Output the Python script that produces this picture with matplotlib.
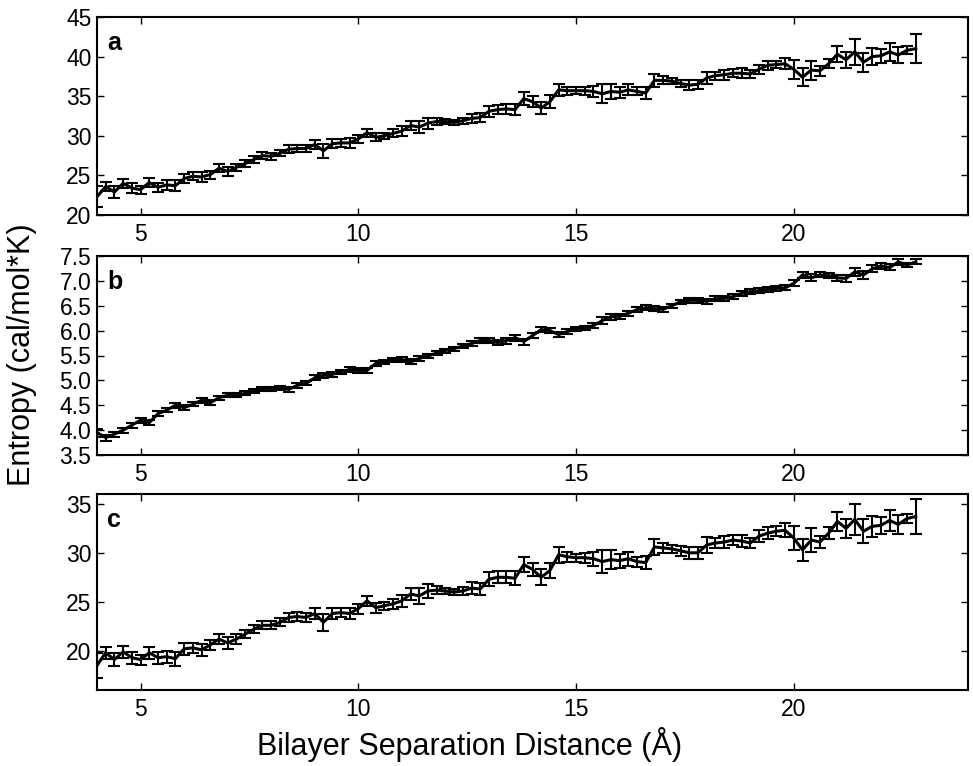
import matplotlib
matplotlib.use("Agg")
import matplotlib.pyplot as plt
from matplotlib.ticker import FormatStrFormatter

distance = [4.0, 4.2, 4.4, 4.6, 4.8, 5.0, 5.2, 5.4, 5.6, 5.8,
            6.0, 6.2, 6.4, 6.6, 6.8, 7.0, 7.2, 7.4, 7.6, 7.8,
            8.0, 8.2, 8.4, 8.6, 8.8, 9.0, 9.2, 9.4, 9.6, 9.8,
            10.0, 10.2, 10.4, 10.6, 10.8, 11.0, 11.2, 11.4, 11.6, 11.8,
            12.0, 12.2, 12.4, 12.6, 12.8, 13.0, 13.2, 13.4, 13.6, 13.8,
            14.0, 14.2, 14.4, 14.6, 14.8, 15.0, 15.2, 15.4, 15.6, 15.8,
            16.0, 16.2, 16.4, 16.6, 16.8, 17.0, 17.2, 17.4, 17.6, 17.8,
            18.0, 18.2, 18.4, 18.6, 18.8, 19.0, 19.2, 19.4, 19.6, 19.8,
            20.0, 20.2, 20.4, 20.6, 20.8, 21.0, 21.2, 21.4, 21.6, 21.8,
            22.0, 22.2, 22.4, 22.6, 22.8]

entropy_a = [22.3, 23.6, 22.9, 24.0, 23.4, 23.2, 24.1, 23.5, 23.8, 23.7,
             24.6, 24.9, 24.8, 25.1, 25.9, 25.5, 26.0, 26.5, 27.0, 27.5,
             27.4, 27.8, 28.3, 28.4, 28.4, 28.9, 28.1, 29.0, 29.1, 29.1,
             29.6, 30.4, 29.8, 30.0, 30.3, 30.6, 31.3, 31.1, 31.6, 31.8,
             31.8, 31.7, 31.9, 32.2, 32.3, 33.1, 33.3, 33.4, 33.3, 34.7,
             34.3, 33.5, 34.3, 35.8, 35.7, 35.7, 35.7, 35.6, 35.3, 35.6,
             35.5, 35.8, 35.6, 35.4, 37.0, 37.0, 36.9, 36.6, 36.4, 36.5,
             37.3, 37.6, 37.7, 37.9, 37.9, 37.8, 38.4, 38.9, 39.0, 39.1,
             38.4, 37.4, 38.3, 38.2, 39.1, 40.3, 39.6, 40.6, 39.3, 40.0,
             40.1, 40.6, 40.2, 40.8, 41.0]

error_a = [1.3, 0.6, 0.7, 0.6, 0.6, 0.5, 0.6, 0.6, 0.6, 0.7,
           0.6, 0.5, 0.6, 0.5, 0.5, 0.6, 0.5, 0.4, 0.4, 0.4,
           0.4, 0.4, 0.5, 0.5, 0.5, 0.6, 0.9, 0.6, 0.5, 0.6,
           0.5, 0.5, 0.5, 0.4, 0.5, 0.6, 0.6, 0.8, 0.7, 0.4,
           0.3, 0.3, 0.4, 0.6, 0.6, 0.7, 0.6, 0.6, 0.7, 0.8,
           0.7, 0.8, 0.8, 0.8, 0.5, 0.4, 0.5, 0.7, 1.2, 1.0,
           0.7, 0.7, 0.5, 0.7, 0.8, 0.5, 0.4, 0.5, 0.6, 0.6,
           0.8, 0.5, 0.6, 0.5, 0.6, 0.5, 0.6, 0.6, 0.5, 0.7,
           1.2, 1.1, 1.2, 0.6, 0.6, 1.0, 1.0, 1.6, 1.2, 1.1,
           0.9, 1.1, 1.0, 0.5, 1.8]

entropy_b = [3.95, 3.85, 3.92, 4.00, 4.10, 4.20, 4.15, 4.33, 4.40, 4.50,
             4.45, 4.52, 4.60, 4.55, 4.65, 4.70, 4.70, 4.74, 4.78, 4.82,
             4.82, 4.85, 4.82, 4.90, 4.94, 5.05, 5.10, 5.12, 5.17, 5.22,
             5.20, 5.20, 5.34, 5.37, 5.41, 5.42, 5.37, 5.44, 5.49, 5.55,
             5.60, 5.64, 5.69, 5.74, 5.80, 5.80, 5.76, 5.80, 5.86, 5.78,
             5.90, 6.02, 6.00, 5.92, 5.98, 6.04, 6.06, 6.10, 6.20, 6.28,
             6.29, 6.35, 6.42, 6.46, 6.44, 6.43, 6.50, 6.58, 6.61, 6.61,
             6.59, 6.64, 6.65, 6.68, 6.75, 6.78, 6.80, 6.83, 6.85, 6.86,
             6.95, 7.12, 7.06, 7.12, 7.10, 7.06, 7.05, 7.18, 7.12, 7.24,
             7.30, 7.27, 7.38, 7.32, 7.38]

error_b = [0.08, 0.06, 0.05, 0.05, 0.05, 0.05, 0.05, 0.05, 0.04, 0.05,
           0.05, 0.04, 0.05, 0.05, 0.04, 0.04, 0.04, 0.04, 0.04, 0.04,
           0.04, 0.04, 0.05, 0.05, 0.04, 0.05, 0.05, 0.05, 0.04, 0.05,
           0.05, 0.05, 0.05, 0.04, 0.04, 0.05, 0.05, 0.05, 0.05, 0.04,
           0.04, 0.04, 0.04, 0.05, 0.05, 0.05, 0.05, 0.06, 0.06, 0.06,
           0.05, 0.05, 0.05, 0.05, 0.05, 0.04, 0.04, 0.05, 0.07, 0.06,
           0.05, 0.05, 0.05, 0.05, 0.05, 0.05, 0.04, 0.04, 0.05, 0.05,
           0.05, 0.05, 0.05, 0.05, 0.05, 0.05, 0.05, 0.05, 0.05, 0.05,
           0.06, 0.06, 0.07, 0.05, 0.05, 0.06, 0.07, 0.08, 0.08, 0.07,
           0.06, 0.06, 0.06, 0.04, 0.05]

entropy_c = [18.5, 19.8, 19.1, 19.9, 19.3, 19.1, 19.8, 19.3, 19.4, 19.2,
             20.2, 20.3, 20.1, 20.6, 21.2, 20.8, 21.2, 21.7, 22.2, 22.6,
             22.6, 22.9, 23.4, 23.5, 23.4, 23.8, 22.9, 23.8, 23.9, 23.8,
             24.3, 25.1, 24.4, 24.6, 24.8, 25.1, 25.8, 25.6, 26.1, 26.2,
             26.1, 26.0, 26.1, 26.4, 26.3, 27.3, 27.5, 27.5, 27.4, 28.8,
             28.3, 27.5, 28.2, 29.8, 29.6, 29.5, 29.5, 29.4, 29.1, 29.3,
             29.2, 29.4, 29.1, 29.0, 30.6, 30.5, 30.4, 30.2, 30.0, 30.0,
             30.8, 31.0, 31.1, 31.3, 31.2, 31.0, 31.7, 32.0, 32.2, 32.3,
             31.5, 30.3, 31.3, 31.1, 32.0, 33.2, 32.5, 33.4, 32.2, 32.7,
             32.8, 33.3, 32.9, 33.5, 33.7]

error_c = [1.3, 0.6, 0.7, 0.6, 0.6, 0.5, 0.6, 0.6, 0.6, 0.7,
           0.6, 0.5, 0.6, 0.5, 0.5, 0.6, 0.5, 0.4, 0.4, 0.4,
           0.4, 0.4, 0.5, 0.5, 0.5, 0.6, 0.9, 0.6, 0.5, 0.6,
           0.5, 0.5, 0.5, 0.4, 0.5, 0.6, 0.6, 0.8, 0.7, 0.4,
           0.3, 0.3, 0.4, 0.6, 0.6, 0.7, 0.6, 0.6, 0.7, 0.8,
           0.7, 0.8, 0.8, 0.8, 0.5, 0.4, 0.5, 0.7, 1.2, 1.0,
           0.7, 0.7, 0.5, 0.7, 0.8, 0.5, 0.4, 0.5, 0.6, 0.6,
           0.8, 0.5, 0.6, 0.5, 0.6, 0.5, 0.6, 0.6, 0.5, 0.7,
           1.2, 1.1, 1.2, 0.6, 0.6, 1.0, 1.0, 1.6, 1.2, 1.1,
           0.9, 1.1, 1.0, 0.5, 1.8]

panel_labels = ["a", "b", "c"]
x_ticks = [5, 10, 15, 20]
y_ticks_a = [20, 25, 30, 35, 40, 45]
y_ticks_b = [3.5, 4.0, 4.5, 5.0, 5.5, 6.0, 6.5, 7.0, 7.5]
y_ticks_c = [20, 25, 30, 35]

plt.rcParams['font.family'] = ['Liberation Sans', 'DejaVu Sans']

fig = plt.figure(figsize=(9.73, 7.66), dpi=100)
W, H = 973, 766
boxes = [(97, 17, 968, 215), (97, 256, 968, 455), (97, 494, 968, 690)]
series = [(entropy_a, error_a, (20, 45), y_ticks_a, "%d"),
          (entropy_b, error_b, (3.5, 7.5), y_ticks_b, "%.1f"),
          (entropy_c, error_c, (16, 36), y_ticks_c, "%d")]

for (l, t, r, b), (vals, errs, ylim, yt, fmt), lab in zip(boxes, series, panel_labels):
    ax = fig.add_axes([l / W, 1 - b / H, (r - l) / W, (b - t) / H])
    ax.errorbar(distance, vals, yerr=errs, color="black", lw=2.2,
                elinewidth=1.5, capsize=4.5, capthick=1.5)
    ax.set_xlim(4.0, 24.0)
    ax.set_ylim(*ylim)
    ax.set_xticks(x_ticks)
    ax.set_yticks(yt)
    ax.yaxis.set_major_formatter(FormatStrFormatter(fmt))
    ax.tick_params(direction="in", top=True, right=True, length=5, width=1,
                   labelsize=16.5)
    ax.tick_params(axis="x", pad=6)
    ax.tick_params(axis="y", pad=4)
    for s in ax.spines.values():
        s.set_linewidth(1.5)
    ax.text(0.012, 0.93, lab, transform=ax.transAxes, fontsize=18,
            fontweight="bold", va="top", ha="left")

fig.text(22 / W, 1 - 355 / H, "Entropy (cal/mol*K)", rotation=90,
         ha="center", va="center", fontsize=22)
fig.text(470 / W, 1 - 745 / H, "Bilayer Separation Distance (Å)",
         ha="center", va="center", fontsize=22)

fig.savefig("out.png", dpi=100)
